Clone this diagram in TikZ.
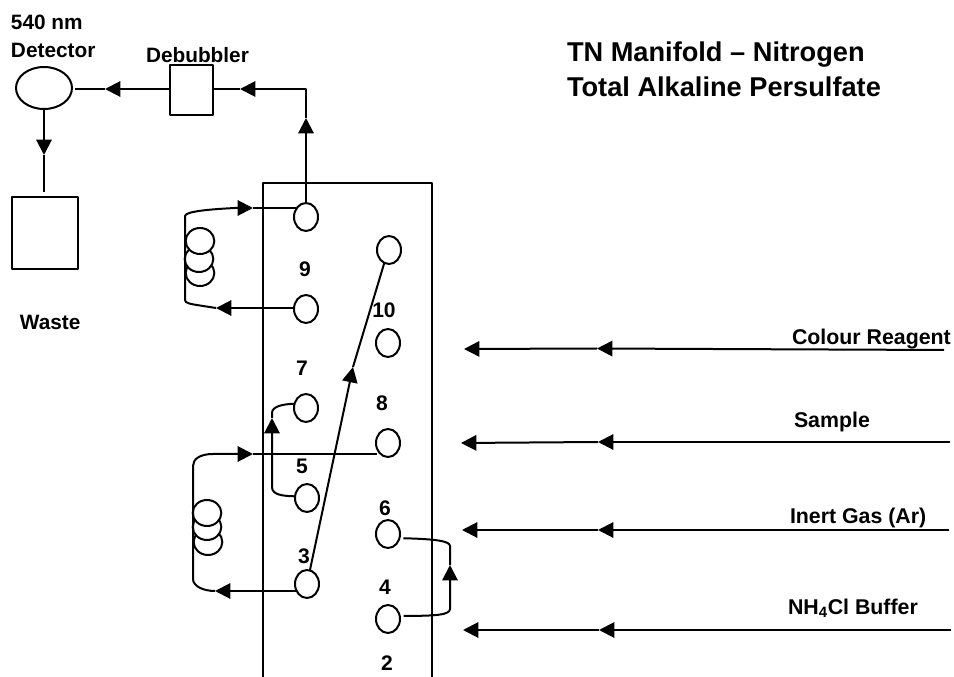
\documentclass[tikz,border=0pt]{standalone}
\usepackage{fontspec}
\setmainfont{Liberation Sans}
\usetikzlibrary{shapes.geometric,arrows.meta}
\tikzset{
  x=0.75pt,y=-0.75pt,
  every path/.style={line width=1.5pt,line join=round},
  port/.style={draw,ellipse,minimum width=18pt,minimum height=21pt,inner sep=0pt,outer sep=0pt},
  coilring/.style={draw,fill=white,ellipse,minimum width=21.5pt,minimum height=19.5pt,inner sep=0pt,outer sep=0pt},
  unitbox/.style={draw,rectangle,inner sep=0pt,outer sep=0pt},
  lbl/.style={inner sep=0pt,outer sep=0pt,anchor=base west,font=\fontsize{15.6}{18}\selectfont\bfseries},
  inlbl/.style={inner sep=0pt,outer sep=0pt,anchor=base west,font=\fontsize{16}{18}\selectfont\bfseries},
  num/.style={inner sep=0pt,outer sep=0pt,anchor=base,font=\fontsize{15.8}{18}\selectfont\bfseries},
  ttl/.style={inner sep=0pt,outer sep=0pt,anchor=base west,font=\fontsize{20.4}{24}\selectfont\bfseries},
  flow/.style={-{Triangle[length=11.5pt,width=11.5pt]}},
}
\begin{document}
\begin{tikzpicture}
\useasboundingbox (0,0) rectangle (954,677);
% titles and labels
\node[ttl] (t1) at (567,62) {TN Manifold – Nitrogen};
\node[ttl] (t2) at (567,97) {Total Alkaline Persulfate};
\node[lbl] (l540) at (11,30) {540 nm};
\node[lbl] (ldet) at (11,58) {Detector};
\node[lbl] (ldeb) at (146,63) {Debubbler};
\node[lbl] (lwas) at (20,330) {Waste};
\node[inlbl] (lcol) at (792,345) {Colour Reagent};
\node[inlbl] (lsam) at (794,427) {Sample};
\node[inlbl] (lgas) at (790,523) {Inert Gas (Ar)};
\node[inlbl] (lbuf) at (788,614) {NH\textsubscript{4}Cl Buffer};
% units
\node[draw,ellipse,minimum width=42pt,minimum height=31.5pt,inner sep=0pt,outer sep=0pt] (det) at (44,88) {};
\node[unitbox,minimum width=32pt,minimum height=37.5pt] (deb) at (191.5,90) {};
\node[unitbox,minimum width=49.5pt,minimum height=54pt] (was) at (45,233) {};
% manifold
\coordinate (mla) at (263,677);
\coordinate (mlb) at (263,183);
\coordinate (mra) at (432,183);
\coordinate (mrb) at (432,677);
\draw (mla) -- (mlb) -- (mra) -- (mrb);
% ports
\node[port] (a) at (306,217) {};
\node[port] (b) at (306,309) {};
\node[port] (c) at (389,250) {};
\node[port] (d) at (388,343) {};
\node[port] (e) at (306,408) {};
\node[port] (f) at (388,443) {};
\node[port] (g) at (307,498) {};
\node[port] (h) at (388,534) {};
\node[port] (i) at (307,584) {};
\node[port] (j) at (388,619) {};
% numbers
\node[num] (n9) at (305,277) {9};
\node[num] (n10) at (384,318) {10};
\node[num] (n7) at (302,376) {7};
\node[num] (n8) at (382,411) {8};
\node[num] (n5) at (302,474) {5};
\node[num] (n6) at (385,515) {6};
\node[num] (n3) at (304,563) {3};
\node[num] (n4) at (385,594) {4};
\node[num] (n2) at (387,670) {2};
% coils
\node[coilring] (c1c) at (200,273) {};
\node[coilring] (c1b) at (199,259) {};
\node[coilring] (c1a) at (200,241) {};
\node[coilring] (c2c) at (208,542) {};
\node[coilring] (c2b) at (207,527) {};
\node[coilring] (c2a) at (207,513) {};
% top run
\coordinate (k1) at (306,118);
\coordinate (k2) at (306,89);
\coordinate (k3) at (240,89);
\draw[flow] (a.north) -- (k1);
\draw[flow] (k1) -- (k2) -- (k3);
\draw (k3) -- (deb.east |- k3);
\coordinate (k4) at (105,89);
\draw[flow] (deb.west |- k4) -- (k4);
\draw (k4) -- (75,89);
\coordinate (k5) at (44,155);
\draw[flow] (det.south) -- (k5);
\coordinate (k6) at (44,192);
\draw (k5) -- (k6);
% upper coil
\coordinate (u1) at (253,208);
\coordinate (u2) at (216,308);
\draw[flow] (u2) -- (200,305.5) .. controls (190,304) and (185,303) .. (185,300) -- (185,216) .. controls (185,211) and (215,209) .. (235,208) -- (u1);
\draw (u1) -- (a.140 |- u1);
\draw[flow] (b.west |- u2) -- (u2);
% lower coil
\coordinate (v1) at (253,454);
\coordinate (v2) at (215,591);
\draw[flow] (v2) .. controls (203,591) and (193,586) .. (193,579) -- (193,466) .. controls (193,459) and (200,454) .. (213,454) -- (v1);
\draw (v1) -- (f.200 |- v1);
\draw[flow] (i.200 |- v2) -- (v2);
% 5 to 7
\coordinate (w1) at (272,418);
\draw[flow] (g.172) .. controls (283,496) and (272,495) .. (272,487) -- (w1);
\draw (w1) -- (272,413) .. controls (272,406) and (284,404) .. (e.160);
% 3 to 10
\coordinate (x1) at (353,367);
\draw[flow] (i.78) -- (x1);
\draw (x1) -- (c.250);
% 4 to 6
\coordinate (y1) at (450,565);
\draw[flow,shorten <=3pt] (j.15) .. controls (435,616) and (450,615) .. (450,609) -- (y1);
\draw[shorten >=3pt] (y1) -- (450,546) .. controls (450,541) and (435,539) .. (h.-20);
% inputs
\coordinate (r1) at (944,350);
\coordinate (r2) at (597,348.5);
\coordinate (r3) at (464,349);
\draw[flow] (r1) -- (r2);
\draw[flow] (r2) -- (r3);
\coordinate (s1) at (950,442);
\coordinate (s2) at (598,442);
\coordinate (s3) at (461,443);
\draw[flow] (s1) -- (s2);
\draw[flow] (s2) -- (s3);
\coordinate (g1) at (949,530);
\coordinate (g2) at (598,530);
\coordinate (g3) at (462,530);
\draw[flow] (g1) -- (g2);
\draw[flow] (g2) -- (g3);
\coordinate (b1) at (951,630);
\coordinate (b2) at (599,630);
\coordinate (b3) at (463,630);
\draw[flow] (b1) -- (b2);
\draw[flow] (b2) -- (b3);
\end{tikzpicture}
\end{document}
